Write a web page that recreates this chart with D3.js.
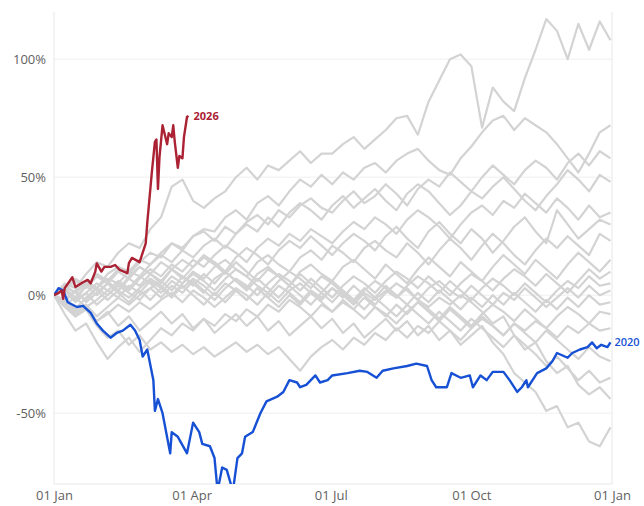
<!DOCTYPE html>
<html>
<head>
<meta charset="utf-8">
<script src="https://cdn.jsdelivr.net/npm/d3@7"></script>
<style>
  body { margin: 0; background: #fff; }
  svg text { font-family: "Open Sans", "Noto Sans", sans-serif; }
</style>
</head>
<body>
<svg id="chart" width="644" height="506"></svg>
<script>
// day-of-year offsets for the weekly gray years
const grayDays = d3.range(0, 365, 7);

// other years, % change since 01 Jan, one value per week
const grayYears = [
  [0,5,3,9,14,12,18,22,20,28,33,46,49,40,37,41,44,50,54,49,55,53,57,61,56,60,60,64,67,62,66,70,75,76,68,82,91,100,102,97,71,88,82,78,92,104,117,112,100,115,104,116,108],
  [0,3,-2,4,8,6,11,9,14,18,16,22,20,25,28,27,33,36,32,39,42,38,44,49,46,51,47,52,49,54,56,52,57,60,62,57,53,51,58,63,69,74,76,70,75,72,69,64,58,52,60,69,72],
  [0,-3,2,6,3,9,12,10,15,13,18,22,19,25,27,23,29,26,31,34,30,36,33,38,41,37,35,40,44,39,42,47,43,38,45,49,46,52,48,44,50,55,51,47,53,57,54,49,56,60,55,61,58],
  [0,4,1,-2,3,7,5,10,8,13,17,14,19,16,21,24,20,26,30,27,33,29,35,39,36,32,38,42,37,41,45,40,36,43,47,44,39,34,38,44,41,46,50,45,40,36,42,47,53,49,44,51,48],
  [0,-2,-6,-1,3,0,5,2,7,11,8,13,10,15,12,17,21,18,14,20,24,21,26,23,28,25,22,27,31,28,33,30,26,32,36,33,29,24,30,35,38,34,40,37,43,39,35,41,37,32,38,33,35],
  [0,3,7,4,9,6,2,8,12,9,5,11,15,12,17,14,10,16,20,17,13,19,23,20,25,21,17,22,26,23,19,25,29,24,20,27,31,26,22,28,24,18,23,29,33,27,22,36,30,24,28,32,30],
  [0,-4,-1,-5,-2,2,-1,4,1,6,3,8,5,10,7,12,15,11,8,14,17,13,10,16,19,15,21,18,14,20,23,19,16,22,18,13,19,24,20,15,21,26,22,17,13,19,24,20,25,21,17,26,23],
  [0,2,-3,1,-4,0,4,1,-2,3,6,2,8,5,1,7,10,6,3,9,12,8,4,10,13,9,6,12,15,11,7,13,9,5,11,16,12,8,14,10,6,12,17,13,9,15,11,7,13,18,14,10,15],
  [0,-3,-7,-4,-9,-5,-1,-4,0,3,-1,4,1,6,2,-2,3,7,4,0,5,9,6,2,7,3,-1,4,8,5,1,6,10,7,3,8,4,0,5,9,6,2,7,11,8,4,9,5,1,6,11,7,10],
  [0,4,1,5,2,-2,2,-1,3,7,4,0,5,9,6,2,7,11,8,4,1,6,10,7,3,8,5,1,-3,2,6,3,-1,4,8,5,1,6,2,-2,3,7,4,0,5,1,-3,2,6,3,8,4,5],
  [0,-5,-9,-6,-11,-8,-4,-7,-3,-6,-2,1,-3,2,-1,-5,-1,3,0,-4,1,-3,2,5,1,-2,3,-1,4,0,-4,1,5,2,-2,3,6,2,-1,4,0,-4,1,-2,3,-1,-5,-1,3,-1,4,0,2],
  [0,2,6,3,8,5,10,7,12,9,14,11,7,12,16,13,9,14,10,6,11,8,4,9,5,1,6,2,-2,3,-1,4,0,-4,1,-3,2,-2,-6,-1,-5,0,-4,1,-3,-7,-2,-6,-1,-5,0,-4,-3],
  [0,-8,-15,-12,-20,-27,-22,-18,-24,-19,-14,-17,-12,-15,-10,-13,-8,-11,-6,-9,-4,-7,-2,-5,-9,-4,-7,-3,-6,-10,-5,-8,-12,-7,-3,-6,-10,-5,-9,-13,-8,-4,-7,-11,-6,-10,-14,-9,-5,-8,-12,-7,-8],
  [0,-4,-9,-6,-13,-18,-15,-21,-17,-23,-20,-24,-21,-25,-22,-26,-23,-20,-24,-21,-25,-22,-27,-32,-26,-22,-19,-23,-18,-21,-16,-19,-14,-18,-13,-16,-11,-15,-19,-14,-10,-13,-17,-12,-15,-11,-14,-18,-13,-16,-12,-15,-14],
  [0,3,-1,4,0,5,1,-3,2,-2,3,-1,4,0,-4,1,-3,2,-2,3,-1,-5,0,-4,1,-3,-7,-2,-6,-1,-5,-9,-4,-8,-3,-7,-11,-6,-10,-14,-9,-13,-17,-12,-16,-20,-15,-19,-23,-27,-22,-26,-28],
  [0,-2,2,-3,1,5,2,7,4,9,6,11,8,4,9,5,10,6,2,7,3,-1,4,0,-4,1,-3,2,-2,-6,-1,-5,-9,-4,-8,-12,-7,-11,-15,-10,-14,-18,-22,-17,-21,-25,-30,-26,-31,-36,-32,-37,-35],
  [0,2,-2,1,5,2,6,3,8,5,1,6,3,7,4,0,5,2,-2,3,-1,4,1,-3,2,-1,3,0,-4,1,-2,2,-1,3,-2,-5,-1,-4,0,-3,-7,-12,-9,-17,-23,-20,-28,-33,-30,-38,-42,-39,-44],
  [0,-3,-8,-5,-11,-7,-13,-9,-15,-11,-7,-12,-8,-14,-10,-16,-12,-8,-13,-9,-15,-11,-17,-13,-9,-14,-10,-16,-12,-18,-14,-10,-15,-11,-17,-13,-19,-15,-21,-17,-13,-20,-25,-33,-37,-41,-49,-47,-56,-54,-62,-64,-56]
];

// 2020
const days2020 = [0,3,6,9,15,19,24,28,32,37,41,45,50,53,56,58,61,65,66,68,71,76,77,81,87,91,95,97,102,105,107,110,113,117,120,123,125,130,135,139,146,150,154,159,161,165,171,174,179,182,192,200,205,211,215,222,231,237,244,247,250,257,260,266,272,274,279,283,287,294,298,303,306,309,310,316,322,326,329,336,339,344,349,352,355,358,362,364];
const values2020 = [0,3,2,-3,-5,-4.5,-7.5,-12,-15,-18,-16,-15,-12.5,-15,-19,-26,-23,-36,-49,-44,-50,-67,-58,-60,-67,-54,-58,-63,-64,-69,-83,-73,-74,-83,-69,-67,-60,-58,-50,-45,-43,-41,-36,-37,-39,-38,-34,-37,-36,-34,-33,-32,-32.5,-35,-32,-31,-30,-29,-30,-36,-39,-39,-33,-35,-34,-39,-34,-36,-32.5,-32.5,-36,-41,-39,-36,-39,-33,-31,-28,-24.5,-26.5,-24.5,-23,-22,-20,-22.5,-21,-22,-20];

// 2026 (year to date)
const days2026 = [0,3,5,6,7,12,14,19,22,24,27,28,31,33,37,40,43,48,49,51,56,60,61,64,66,67,68,69,71,74,75,77,78,79,81,82,84,85,87,88];
const values2026 = [0,1,2,-1.5,3,7.6,3.5,5.5,6.5,5,10,13.5,10,12,12,12.8,10.7,9.4,13.6,15.8,14,22,30.6,52,65,66,45,58.5,72,64,68.6,67,72,65,54,59,58,67,75.5,76];

const tickDates = [[2001,0,1],[2001,3,1],[2001,6,1],[2001,9,1],[2002,0,1]];
const yTicks = [100, 50, 0, -50];

const grayColor = "#d3d3d3", blue = "#1650d4", red = "#ab2234";

const svg = d3.select("#chart");
const margin = {left: 54, right: 612, top: 12, bottom: 484};

const x = d3.scaleUtc()
    .domain([new Date(Date.UTC(2001, 0, 1)), new Date(Date.UTC(2002, 0, 1))])
    .range([margin.left, margin.right]);
const y = d3.scaleLinear().domain([-80, 120]).range([margin.bottom, margin.top]);

const day = d => new Date(Date.UTC(2001, 0, 1 + d));

svg.append("defs").append("clipPath").attr("id", "clip")
  .append("rect").attr("x", margin.left).attr("y", margin.top)
    .attr("width", margin.right - margin.left + 2).attr("height", margin.bottom - margin.top);

// gridlines
svg.append("g")
  .selectAll("line").data(yTicks).join("line")
    .attr("x1", margin.left).attr("x2", margin.right)
    .attr("y1", d => y(d)).attr("y2", d => y(d))
    .attr("stroke", "#efefef");

svg.append("g").attr("stroke", "#e8e8e8")
  .call(g => g.append("line").attr("x1", margin.left).attr("x2", margin.left).attr("y1", margin.top).attr("y2", margin.bottom))
  .call(g => g.append("line").attr("x1", margin.right).attr("x2", margin.right).attr("y1", margin.top).attr("y2", margin.bottom))
  .call(g => g.append("line").attr("x1", margin.left).attr("x2", margin.right).attr("y1", margin.bottom).attr("y2", margin.bottom));

// y labels
svg.append("g")
  .attr("transform", `translate(${margin.left - 8},0)`)
  .call(d3.axisLeft(y).tickValues(yTicks).tickSize(0).tickPadding(0).tickFormat(d => d + "%"))
  .call(g => g.select(".domain").remove())
  .call(g => g.selectAll("text").attr("fill", "#5f5f5f").attr("font-size", 13));

// x labels
svg.append("g")
  .attr("transform", `translate(0,${margin.bottom})`)
  .call(d3.axisBottom(x)
    .tickValues(tickDates.map(t => new Date(Date.UTC(...t))))
    .tickSize(0).tickPadding(7)
    .tickFormat(d3.utcFormat("%d %b")))
  .call(g => g.select(".domain").remove())
  .call(g => g.selectAll("text").attr("fill", "#5f5f5f").attr("font-size", 13));

const line = d3.line().x(d => x(d[0])).y(d => y(d[1]));

const plot = svg.append("g").attr("clip-path", "url(#clip)");

plot.append("g")
  .selectAll("path").data(grayYears).join("path")
    .attr("d", vals => line(vals.map((v, i) => [day(grayDays[i]), v])))
    .attr("fill", "none")
    .attr("stroke", grayColor)
    .attr("stroke-width", 2.2)
    .attr("stroke-linejoin", "round");

plot.append("path")
    .attr("d", line(values2020.map((v, i) => [day(days2020[i]), v])))
    .attr("fill", "none").attr("stroke", blue).attr("stroke-width", 2.4)
    .attr("stroke-linejoin", "round");

plot.append("path")
    .attr("d", line(values2026.map((v, i) => [day(days2026[i]), v])))
    .attr("fill", "none").attr("stroke", red).attr("stroke-width", 2.4)
    .attr("stroke-linejoin", "round");

// end labels
const last2020 = days2020.length - 1, last2026 = days2026.length - 1;
svg.append("text")
    .attr("x", x(day(days2020[last2020])) + 4)
    .attr("y", y(values2020[last2020]) + 4)
    .attr("fill", blue).attr("font-size", 11).attr("font-weight", 600)
    .text("2020");
svg.append("text")
    .attr("x", x(day(days2026[last2026])) + 5)
    .attr("y", y(values2026[last2026]) + 4)
    .attr("fill", red).attr("font-size", 11).attr("font-weight", 700)
    .text("2026");
</script>
</body>
</html>
